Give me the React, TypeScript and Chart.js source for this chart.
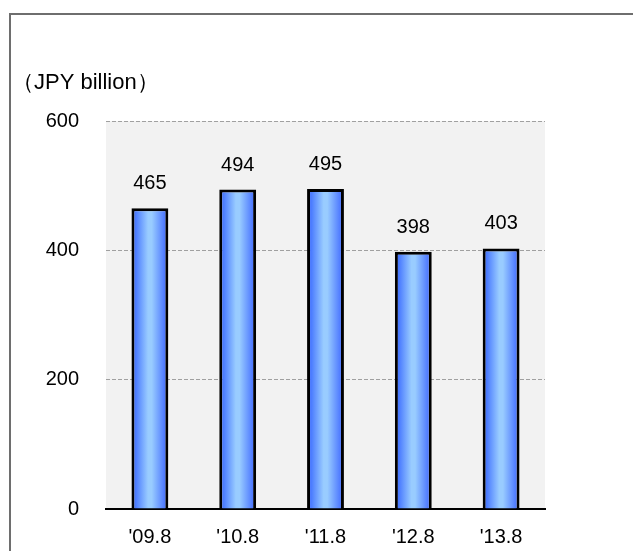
import React, { useEffect, useRef } from "react";
import { Chart, registerables } from "chart.js";

Chart.register(...registerables);

const periods = ["'09.8", "'10.8", "'11.8", "'12.8", "'13.8"];
const sales = [465, 494, 495, 398, 403];
const yTicks = [0, 200, 400, 600];
const unitLabel = "（JPY billion）";

const FONT = "'Liberation Sans', Arial, sans-serif";

// Frame, plot background, unit caption, bar gradients and value labels
const decorPlugin = {
  id: "decor",
  beforeDraw(chart: any) {
    const { ctx, chartArea } = chart;
    ctx.save();
    ctx.fillStyle = "#ffffff";
    ctx.fillRect(0, 0, chart.width, chart.height);
    ctx.strokeStyle = "#6e6e6e";
    ctx.lineWidth = 2;
    ctx.strokeRect(10, 14, chart.width + 40, chart.height + 40);
    ctx.fillStyle = "#f2f2f2";
    ctx.fillRect(chartArea.left, chartArea.top, chartArea.right - chartArea.left, chartArea.bottom - chartArea.top);
    ctx.fillStyle = "#000000";
    ctx.font = `22px ${FONT}`;
    ctx.textBaseline = "middle";
    ctx.textAlign = "left";
    ctx.fillText(unitLabel, 12, 83);
    ctx.restore();
  },
  beforeDatasetsDraw(chart: any) {
    const { ctx } = chart;
    const meta = chart.getDatasetMeta(0);
    meta.data.forEach((bar: any) => {
      const half = bar.width / 2;
      const g = ctx.createLinearGradient(bar.x - half, 0, bar.x + half, 0);
      g.addColorStop(0, "#3060ff");
      g.addColorStop(0.45, "#99ccff");
      g.addColorStop(0.55, "#99ccff");
      g.addColorStop(1, "#3a63ff");
      bar.options.backgroundColor = g;
    });
  },
  afterDatasetsDraw(chart: any) {
    const { ctx } = chart;
    const meta = chart.getDatasetMeta(0);
    ctx.save();
    ctx.fillStyle = "#000000";
    ctx.font = `20px ${FONT}`;
    ctx.textAlign = "center";
    ctx.textBaseline = "alphabetic";
    meta.data.forEach((bar: any, i: number) => {
      ctx.fillText(String(sales[i]), bar.x, bar.y - 19);
    });
    ctx.restore();
  },
};

export default function App() {
  const canvasRef = useRef<HTMLCanvasElement | null>(null);

  useEffect(() => {
    if (!canvasRef.current) return;
    const chart = new Chart(canvasRef.current, {
      type: "bar",
      data: {
        labels: periods,
        datasets: [
          {
            data: sales,
            // scriptable so every bar keeps its own options object (own gradient)
            backgroundColor: (c: any) => (c.dataIndex >= 0 ? "#6699ff" : "#6699ff"),
            borderColor: "#000000",
            borderWidth: 3,
            borderSkipped: "bottom",
            barPercentage: 0.42,
            categoryPercentage: 1,
          },
        ],
      },
      options: {
        responsive: false,
        animation: false,
        devicePixelRatio: 1,
        layout: { padding: { left: 0, top: 121, right: 88, bottom: 0 } },
        plugins: { legend: { display: false }, tooltip: { enabled: false }, title: { display: false } },
        scales: {
          x: {
            grid: { display: false, drawTicks: false },
            border: { display: true, color: "#000000", width: 2 },
            ticks: { color: "#000000", font: { family: FONT, size: 20 }, padding: 16, maxRotation: 0 },
            afterFit(scale: any) {
              scale.height = 42;
            },
          },
          y: {
            min: 0,
            max: 600,
            afterBuildTicks(scale: any) {
              scale.ticks = yTicks.map((v) => ({ value: v }));
            },
            grid: {
              drawTicks: false,
              color: (c: any) => (c.tick && c.tick.value === 0 ? "rgba(0,0,0,0)" : "#a0a0a0"),
              lineWidth: 1,
            },
            border: { display: false, dash: [4, 2] },
            ticks: { color: "#000000", font: { family: FONT, size: 20 }, padding: 27 },
            afterFit(scale: any) {
              scale.width = 106;
            },
          },
        },
      },
      plugins: [decorPlugin],
    });
    return () => chart.destroy();
  }, []);

  return (
    <div style={{ position: "absolute", left: 0, top: 0, width: 633, height: 551 }}>
      <canvas ref={canvasRef} width={633} height={551} style={{ display: "block", width: 633, height: 551 }} />
    </div>
  );
}
